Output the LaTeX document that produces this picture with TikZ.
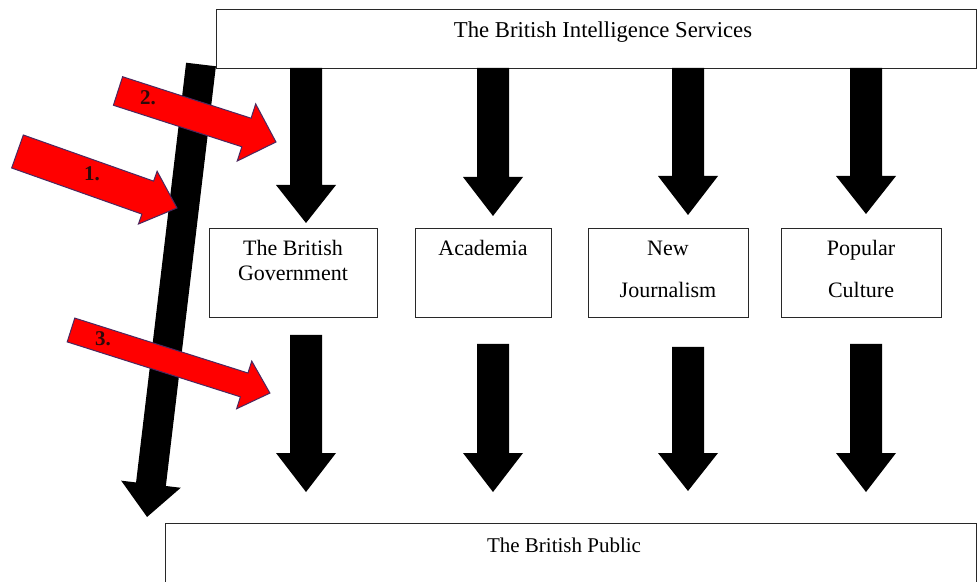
\documentclass[tikz,border=0pt]{standalone}
\usepackage{fontspec}
\setmainfont{Liberation Serif}
\definecolor{boxline}{RGB}{40,40,40}
\definecolor{redline}{RGB}{75,40,95}
\definecolor{numtext}{RGB}{45,10,10}
\newcommand\blockarrowat[8]{%
  \begin{scope}[shift={(#1,#2)},rotate=#3]
    \path[#8] (0,-#5/2) -- ({#4-#7},-#5/2) -- ({#4-#7},-#6/2) -- (#4,0) -- ({#4-#7},#6/2) -- ({#4-#7},#5/2) -- (0,#5/2) -- cycle;
  \end{scope}}
\newcommand\downblock[4]{%
  \fill[black] (#1-16,#2) -- (#1+16,#2) -- (#1+16,#3) -- (#1+30,#3) -- (#1,#4) -- (#1-30,#3) -- (#1-16,#3) -- cycle;}
\begin{document}
\begin{tikzpicture}[x=1pt,y=1pt,
  box/.style={draw=boxline, line width=0.9pt, fill=white, inner sep=0pt, anchor=north west},
  lbl/.style={font=\fontsize{22}{26}\selectfont, anchor=base, inner sep=0pt},
  toplbl/.style={font=\fontsize{22.7}{26}\selectfont, anchor=base, inner sep=0pt},
  publbl/.style={font=\fontsize{21}{25}\selectfont, anchor=base, inner sep=0pt},
  redarrow/.style={fill=red, draw=redline, line width=1pt, line join=miter},
  blackarrow/.style={fill=black},
  numlbl/.style={font=\fontsize{21}{24}\selectfont\bfseries, text=numtext, anchor=base, inner sep=0pt}]
\clip (0,0) rectangle (979,581);
\fill[white] (0,0) rectangle (979,581);
% boxes
\node[box, minimum width=760pt, minimum height=59pt] (intel) at (216,572) {};
\node[toplbl] (inteltxt) at (603,543) {The British Intelligence Services};
\node[box, minimum width=168pt, minimum height=89pt] (gov) at (209,353) {};
\node[box, minimum width=136pt, minimum height=89pt] (acad) at (415,353) {};
\node[box, minimum width=160pt, minimum height=89pt] (news) at (588,353) {};
\node[box, minimum width=160pt, minimum height=89pt] (pop) at (781,353) {};
\node[box, minimum width=811pt, minimum height=80pt] (public) at (165,58) {};
\node[lbl] (govtxt1) at (293,325) {The British};
\node[lbl] (govtxt2) at (293,300) {Government};
\node[lbl] (acadtxt) at (483,325) {Academia};
\node[lbl] (newstxt1) at (668,325) {New};
\node[lbl] (newstxt2) at (668,283) {Journalism};
\node[lbl] (poptxt1) at (861,325) {Popular};
\node[lbl] (poptxt2) at (861,283) {Culture};
\node[publbl] (pubtxt) at (564,29) {The British Public};
% vertical block arrows
\downblock{306}{513}{396}{358}
\downblock{493}{513}{404}{365}
\downblock{688}{513}{405}{366}
\downblock{866}{513}{405}{367}
\downblock{306}{246}{128}{89}
\downblock{493}{237}{128}{89}
\downblock{688}{234}{128}{90}
\downblock{866}{237}{128}{89}
% long slanted arrow
\blockarrowat{201}{516.5}{-96.8}{455.7}{30}{60}{33}{blackarrow}
% red arrows
\blockarrowat{17.5}{429.5}{-19.5}{169.2}{35}{56}{31}{redarrow}
\blockarrowat{118}{490}{-17.9}{166}{30}{60}{31}{redarrow}
\blockarrowat{71}{251}{-17.6}{208.7}{25}{50}{27}{redarrow}
\node[numlbl] (n1) at (92,400) {1.};
\node[numlbl] (n2) at (148,476) {2.};
\node[numlbl] (n3) at (103,235) {3.};
\end{tikzpicture}
\end{document}
